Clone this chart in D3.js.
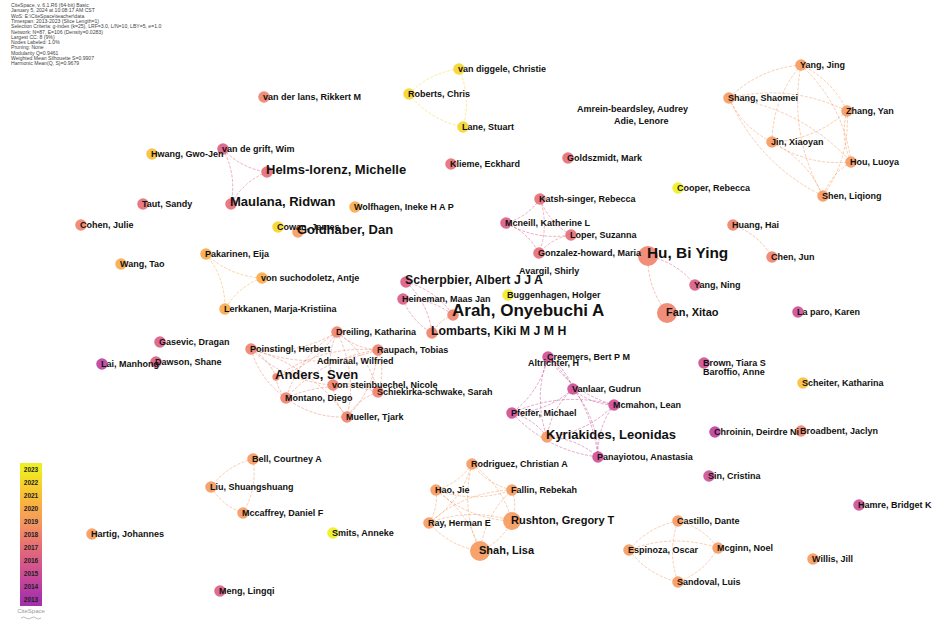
<!DOCTYPE html>
<html>
<head>
<meta charset="utf-8">
<script src="https://cdn.jsdelivr.net/npm/d3@7"></script>
<style>
  body { margin: 0; background: #fff; }
  svg { display: block; font-family: "Liberation Sans", Arial, sans-serif; }
</style>
</head>
<body>
<div id="net"></div>
<script>
// co-authorship network (CiteSpace export), layout units = 1/10 of the canvas
const authors = [
  "van der lans, Rikkert M", "Roberts, Chris", "van diggele, Christie", "Lane, Stuart",
  "Amrein-beardsley, Audrey", "Adie, Lenore", "Hwang, Gwo-Jen", "van de grift, Wim",
  "Helms-lorenz, Michelle", "Maulana, Ridwan", "Taut, Sandy", "Cohen, Julie",
  "Cowan, James", "Goldhaber, Dan", "Wolfhagen, Ineke H A P", "Klieme, Eckhard",
  "Goldszmidt, Mark", "Cooper, Rebecca", "Katsh-singer, Rebecca", "Mcneill, Katherine L",
  "Loper, Suzanna", "Gonzalez-howard, Maria", "Hu, Bi Ying", "Avargil, Shirly",
  "Scherpbier, Albert J J A", "Yang, Ning", "Heineman, Maas Jan", "Buggenhagen, Holger",
  "Arah, Onyebuchi A", "Fan, Xitao", "Lombarts, Kiki M J M H", "Yang, Jing",
  "Shang, Shaomei", "Zhang, Yan", "Jin, Xiaoyan", "Hou, Luoya",
  "Shen, Liqiong", "Huang, Hai", "Chen, Jun", "La paro, Karen",
  "Brown, Tiara S", "Baroffio, Anne", "Scheiter, Katharina", "Pakarinen, Eija",
  "Wang, Tao", "von suchodoletz, Antje", "Lerkkanen, Marja-Kristiina", "Gasevic, Dragan",
  "Lai, Manhong", "Dawson, Shane", "Dreiling, Katharina", "Poinstingl, Herbert",
  "Raupach, Tobias", "Admiraal, Wilfried", "Anders, Sven", "von steinbuechel, Nicole",
  "Schiekirka-schwake, Sarah", "Montano, Diego", "Mueller, Tjark", "Creemers, Bert P M",
  "Altrichter, H", "Vanlaar, Gudrun", "Mcmahon, Lean", "Pfeifer, Michael",
  "Kyriakides, Leonidas", "Panayiotou, Anastasia", "Chroinin, Deirdre Ni", "Broadbent, Jaclyn",
  "Bell, Courtney A", "Liu, Shuangshuang", "Mccaffrey, Daniel F", "Hartig, Johannes",
  "Smits, Anneke", "Meng, Lingqi", "Rodriguez, Christian A", "Hao, Jie",
  "Fallin, Rebekah", "Ray, Herman E", "Rushton, Gregory T", "Shah, Lisa",
  "Castillo, Dante", "Espinoza, Oscar", "Mcginn, Noel", "Sandoval, Luis",
  "Sin, Cristina", "Hamre, Bridget K", "Willis, Jill"
];
const layoutX = [
  26.4, 40.9, 45.9, 46.3, 57.8, 61.5, 15.2, 22.3, 26.7, 23.1, 14.3, 8.1,
  27.8, 29.8, 35.5, 45.1, 56.8, 67.8, 54.0, 50.6, 57.1, 53.9, 64.8, 52.0,
  40.6, 69.5, 40.3, 50.8, 45.3, 66.7, 43.2, 80.1, 72.9, 84.7, 77.2, 85.1,
  82.3, 73.3, 77.2, 79.8, 70.4, 70.4, 80.3, 20.6, 12.1, 26.2, 22.5, 16.0,
  10.2, 15.6, 33.7, 25.1, 37.8, 31.8, 27.6, 33.3, 37.8, 28.6, 34.7, 54.8,
  52.9, 57.3, 61.4, 51.2, 54.7, 59.8, 71.5, 80.1, 25.3, 21.1, 24.3, 9.2,
  33.3, 22.0, 47.2, 43.6, 51.2, 42.9, 51.2, 48.0, 67.8, 62.9, 71.8, 67.8,
  70.9, 85.9, 81.3
];
const layoutY = [
  9.7, 9.4, 6.9, 12.7, 10.9, 12.1, 15.4, 14.9, 17.2, 20.4, 20.4, 22.5,
  22.7, 23.2, 20.7, 16.4, 15.8, 18.8, 19.9, 22.3, 23.5, 25.3, 25.6, 27.1,
  28.2, 28.5, 29.9, 29.5, 31.5, 31.3, 33.3, 6.5, 9.8, 11.1, 14.2, 16.2,
  19.6, 22.5, 25.7, 31.2, 36.3, 37.2, 38.3, 25.4, 26.4, 27.8, 30.9, 34.2,
  36.4, 36.2, 33.2, 34.9, 35.0, 36.1, 37.7, 38.5, 39.2, 39.8, 41.7, 35.7,
  36.3, 38.9, 40.5, 41.3, 43.7, 45.7, 43.2, 43.1, 45.9, 48.7, 51.3, 53.4,
  53.3, 59.1, 46.4, 49.0, 49.0, 52.3, 52.1, 55.1, 52.1, 55.0, 54.8, 58.2,
  47.6, 50.5, 55.9
];
// year of first collaboration (node colour)
const years = [
  2018, 2022, 2022, 2022, 2019, 2019, 2021, 2016, 2017, 2017, 2017, 2018,
  2022, 2019, 2020, 2017, 2017, 2023, 2017, 2016, 2017, 2017, 2018, 2017,
  2016, 2016, 2016, 2023, 2018, 2018, 2018, 2019, 2019, 2019, 2019, 2019,
  2019, 2018, 2018, 2015, 2015, 2015, 2021, 2020, 2020, 2020, 2020, 2016,
  2014, 2016, 2018, 2018, 2018, 2018, 2018, 2018, 2018, 2018, 2018, 2015,
  2015, 2015, 2015, 2015, 2019, 2015, 2014, 2018, 2019, 2019, 2019, 2019,
  2023, 2016, 2019, 2019, 2019, 2019, 2019, 2019, 2019, 2019, 2019, 2019,
  2015, 2015, 2019
];
// node weight (circle) and publication count (label)
const nodeWeight = [
  1, 1, 1, 1, 0, 0, 1, 1, 1, 1, 1, 1,
  1, 1, 1, 1, 1, 1, 1, 1, 1, 1, 3, 0,
  1, 1, 1, 1, 1, 3, 1, 1, 1, 1, 1, 1,
  1, 1, 1, 1, 1, 0, 1, 1, 1, 1, 1, 1,
  1, 1, 1, 1, 1, 0, 0.4, 1, 1, 1, 1, 1,
  0, 1, 1, 1, 1, 1, 1, 1, 1, 1, 1, 1,
  1, 1, 1, 1, 1, 1, 2.4, 3, 1, 1, 1, 1,
  1, 1, 1
];
const counts = [
  1, 1, 1, 1, 1, 1, 1, 1, 4, 4, 1, 1,
  1, 4, 1, 1, 1, 1, 1, 1, 1, 1, 5, 1,
  3, 1, 1, 1, 7, 2, 3, 1, 1, 1, 1, 1,
  1, 1, 1, 1, 1, 1, 1, 1, 1, 1, 1, 1,
  1, 1, 1, 1, 1, 1, 4, 1, 1, 1, 1, 1,
  1, 1, 1, 1, 4, 1, 1, 1, 1, 1, 1, 1,
  1, 1, 1, 1, 1, 1, 2, 2, 1, 1, 1, 1,
  1, 1, 1
];
const links = [
  ["Roberts, Chris", "van diggele, Christie"], ["Roberts, Chris", "Lane, Stuart"], ["van diggele, Christie", "Lane, Stuart"],
  ["van de grift, Wim", "Helms-lorenz, Michelle"], ["van de grift, Wim", "Maulana, Ridwan"], ["Helms-lorenz, Michelle", "Maulana, Ridwan"],
  ["Katsh-singer, Rebecca", "Mcneill, Katherine L"], ["Katsh-singer, Rebecca", "Loper, Suzanna"], ["Katsh-singer, Rebecca", "Gonzalez-howard, Maria"],
  ["Mcneill, Katherine L", "Loper, Suzanna"], ["Mcneill, Katherine L", "Gonzalez-howard, Maria"], ["Loper, Suzanna", "Gonzalez-howard, Maria"],
  ["Hu, Bi Ying", "Yang, Ning"], ["Hu, Bi Ying", "Fan, Xitao"],
  ["Scherpbier, Albert J J A", "Arah, Onyebuchi A"], ["Heineman, Maas Jan", "Lombarts, Kiki M J M H"], ["Scherpbier, Albert J J A", "Lombarts, Kiki M J M H"],
  ["Arah, Onyebuchi A", "Lombarts, Kiki M J M H"], ["Heineman, Maas Jan", "Arah, Onyebuchi A"],
  ["Yang, Jing", "Shang, Shaomei"], ["Yang, Jing", "Zhang, Yan"], ["Yang, Jing", "Jin, Xiaoyan"], ["Yang, Jing", "Hou, Luoya"], ["Yang, Jing", "Shen, Liqiong"],
  ["Shang, Shaomei", "Zhang, Yan"], ["Shang, Shaomei", "Jin, Xiaoyan"], ["Shang, Shaomei", "Hou, Luoya"], ["Shang, Shaomei", "Shen, Liqiong"],
  ["Zhang, Yan", "Jin, Xiaoyan"], ["Zhang, Yan", "Hou, Luoya"], ["Zhang, Yan", "Shen, Liqiong"],
  ["Jin, Xiaoyan", "Hou, Luoya"], ["Jin, Xiaoyan", "Shen, Liqiong"], ["Hou, Luoya", "Shen, Liqiong"],
  ["Huang, Hai", "Chen, Jun"],
  ["Pakarinen, Eija", "von suchodoletz, Antje"], ["Pakarinen, Eija", "Lerkkanen, Marja-Kristiina"], ["von suchodoletz, Antje", "Lerkkanen, Marja-Kristiina"],
  ["Dreiling, Katharina", "Poinstingl, Herbert"], ["Dreiling, Katharina", "Raupach, Tobias"], ["Dreiling, Katharina", "Anders, Sven"],
  ["Dreiling, Katharina", "von steinbuechel, Nicole"], ["Dreiling, Katharina", "Schiekirka-schwake, Sarah"], ["Dreiling, Katharina", "Montano, Diego"],
  ["Dreiling, Katharina", "Mueller, Tjark"], ["Poinstingl, Herbert", "Raupach, Tobias"], ["Poinstingl, Herbert", "Anders, Sven"],
  ["Poinstingl, Herbert", "Montano, Diego"], ["Poinstingl, Herbert", "Mueller, Tjark"], ["Poinstingl, Herbert", "von steinbuechel, Nicole"],
  ["Raupach, Tobias", "Schiekirka-schwake, Sarah"], ["Raupach, Tobias", "Montano, Diego"], ["Raupach, Tobias", "Mueller, Tjark"],
  ["Anders, Sven", "Montano, Diego"], ["Anders, Sven", "Raupach, Tobias"], ["von steinbuechel, Nicole", "Mueller, Tjark"],
  ["von steinbuechel, Nicole", "Schiekirka-schwake, Sarah"], ["Montano, Diego", "Mueller, Tjark"], ["Montano, Diego", "Schiekirka-schwake, Sarah"],
  ["Schiekirka-schwake, Sarah", "Mueller, Tjark"],
  ["Creemers, Bert P M", "Vanlaar, Gudrun"], ["Creemers, Bert P M", "Mcmahon, Lean"], ["Creemers, Bert P M", "Pfeifer, Michael"],
  ["Creemers, Bert P M", "Kyriakides, Leonidas"], ["Creemers, Bert P M", "Panayiotou, Anastasia"], ["Vanlaar, Gudrun", "Mcmahon, Lean"],
  ["Vanlaar, Gudrun", "Pfeifer, Michael"], ["Vanlaar, Gudrun", "Kyriakides, Leonidas"], ["Vanlaar, Gudrun", "Panayiotou, Anastasia"],
  ["Mcmahon, Lean", "Pfeifer, Michael"], ["Mcmahon, Lean", "Kyriakides, Leonidas"], ["Mcmahon, Lean", "Panayiotou, Anastasia"],
  ["Pfeifer, Michael", "Kyriakides, Leonidas"], ["Pfeifer, Michael", "Panayiotou, Anastasia"], ["Kyriakides, Leonidas", "Panayiotou, Anastasia"],
  ["Bell, Courtney A", "Liu, Shuangshuang"], ["Bell, Courtney A", "Mccaffrey, Daniel F"], ["Liu, Shuangshuang", "Mccaffrey, Daniel F"],
  ["Rodriguez, Christian A", "Hao, Jie"], ["Rodriguez, Christian A", "Fallin, Rebekah"], ["Rodriguez, Christian A", "Rushton, Gregory T"],
  ["Rodriguez, Christian A", "Shah, Lisa"], ["Rodriguez, Christian A", "Ray, Herman E"], ["Hao, Jie", "Fallin, Rebekah"],
  ["Hao, Jie", "Ray, Herman E"], ["Hao, Jie", "Rushton, Gregory T"], ["Hao, Jie", "Shah, Lisa"],
  ["Fallin, Rebekah", "Ray, Herman E"], ["Fallin, Rebekah", "Rushton, Gregory T"], ["Fallin, Rebekah", "Shah, Lisa"],
  ["Ray, Herman E", "Rushton, Gregory T"], ["Ray, Herman E", "Shah, Lisa"], ["Rushton, Gregory T", "Shah, Lisa"],
  ["Castillo, Dante", "Espinoza, Oscar"], ["Castillo, Dante", "Mcginn, Noel"], ["Castillo, Dante", "Sandoval, Luis"],
  ["Espinoza, Oscar", "Mcginn, Noel"], ["Espinoza, Oscar", "Sandoval, Luis"], ["Mcginn, Noel", "Sandoval, Luis"]
];
const legendYears = [2013, 2014, 2015, 2016, 2017, 2018, 2019, 2020, 2021, 2022, 2023];
const legendColors = ["#a632ab", "#bb3f9f", "#cc4d93", "#d95c85", "#e56c77", "#ee826a", "#f5995e", "#f8aa48", "#f8bf36", "#f6d42a", "#eeee22"];
const headerLines = [
  "CiteSpace, v. 6.1.R6 (64-bit) Basic",
  "January 5, 2024 at 10:08:17 AM CST",
  "WoS: E:\\CiteSpace\\teacher\\data",
  "Timespan: 2013-2023 (Slice Length=1)",
  "Selection Criteria: g-index (k=25), LRF=3.0, L/N=10, LBY=5, e=1.0",
  "Network: N=87, E=106 (Density=0.0283)",
  "Largest CC: 8 (9%)",
  "Nodes Labeled: 1.0%",
  "Pruning: None",
  "Modularity Q=0.9461",
  "Weighted Mean Silhouette S=0.9907",
  "Harmonic Mean(Q, S)=0.9679"
];

const width = 938, height = 623;
const svg = d3.select("#net").append("svg")
  .attr("width", width).attr("height", height);

const x = d3.scaleLinear().domain([0, 93.8]).range([0, width]);
const y = d3.scaleLinear().domain([0, 62.3]).range([0, height]);
const r = d3.scaleSqrt().domain([0, 3]).range([0, 10]);
const fontSize = d3.scaleLinear().domain([1, 2, 3, 4, 5, 7]).range([9, 11, 12.3, 13, 15.4, 17]);
const color = d3.scaleLinear().domain(legendYears).range(legendColors);

const nodes = authors.map((name, i) => ({
  name, year: years[i], w: nodeWeight[i], n: counts[i],
  cx: x(layoutX[i]), cy: y(layoutY[i])
}));
const byName = new Map(nodes.map(d => [d.name, d]));

// header info
svg.append("g").selectAll("text")
  .data(headerLines).enter().append("text")
  .attr("x", 11).attr("y", (d, i) => 7 + i * 5.3)
  .style("font-size", "5.1px").style("fill", "#444")
  .text(d => d);

// links, drawn as bowed dashed curves
svg.append("g").selectAll("path")
  .data(links).enter().append("path")
  .attr("d", (d, i) => {
    const a = byName.get(d[0]), b = byName.get(d[1]);
    const mx = (a.cx + b.cx) / 2, my = (a.cy + b.cy) / 2;
    const dx = b.cx - a.cx, dy = b.cy - a.cy;
    const k = (i % 2 ? 0.18 : -0.18);
    return `M${a.cx},${a.cy} Q${mx - dy * k},${my + dx * k} ${b.cx},${b.cy}`;
  })
  .attr("fill", "none")
  .attr("stroke", d => color(Math.min(byName.get(d[0]).year, byName.get(d[1]).year)))
  .attr("stroke-width", 0.7)
  .attr("stroke-dasharray", "3,1.5")
  .attr("opacity", 0.7);

// nodes
svg.append("g").selectAll("circle")
  .data(nodes.filter(d => d.w > 0)).enter().append("circle")
  .attr("cx", d => d.cx).attr("cy", d => d.cy)
  .attr("r", d => r(d.w))
  .attr("fill", d => color(d.year))
  .attr("opacity", 0.9);

// labels, small first, larger ones on top
const sorted = nodes.slice().sort((a, b) => a.n - b.n);
svg.append("g").selectAll("text")
  .data(sorted).enter().append("text")
  .attr("x", d => d.cx - 1)
  .attr("y", d => {
    const fs = fontSize(d.n);
    return d.cy - (fs - 9) * 0.6 + fs * 0.35;
  })
  .style("font-size", d => fontSize(d.n) + "px")
  .style("font-weight", "bold")
  .style("fill", "#111")
  .text(d => d.name);

// year legend
const defs = svg.append("defs");
const grad = defs.append("linearGradient").attr("id", "yrs")
  .attr("x1", 0).attr("y1", 1).attr("x2", 0).attr("y2", 0);
grad.selectAll("stop").data(legendYears).enter().append("stop")
  .attr("offset", (d, i) => (i + 0.5) / legendYears.length)
  .attr("stop-color", d => color(d));

const cell = 13, legTop = 463;
const ly = d3.scaleBand().domain(legendYears.slice().reverse())
  .range([legTop, legTop + cell * legendYears.length]);
svg.append("rect")
  .attr("x", 20).attr("y", legTop)
  .attr("width", 22).attr("height", cell * legendYears.length)
  .attr("fill", "url(#yrs)");
svg.append("g").selectAll("text")
  .data(legendYears).enter().append("text")
  .attr("x", 31).attr("y", d => ly(d) + ly.bandwidth() / 2 + 2.3)
  .attr("text-anchor", "middle")
  .style("font-size", "6.5px").style("font-weight", "bold").style("fill", "#222")
  .text(d => d);

svg.append("text")
  .attr("x", 31).attr("y", 613).attr("text-anchor", "middle")
  .style("font-size", "6px").style("fill", "#999")
  .text("CiteSpace");
svg.append("path")
  .attr("d", "M21,618 q2.5,-2 5,0 t5,0 t5,0 t5,0")
  .attr("fill", "none").attr("stroke", "#aaa").attr("stroke-width", 0.8);
</script>
</body>
</html>
